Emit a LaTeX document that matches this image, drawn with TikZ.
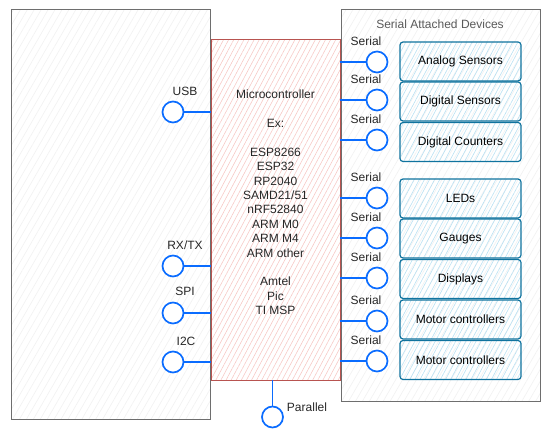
\documentclass[tikz,border=0pt]{standalone}
\usepackage{tikz}
\usepackage{fontspec}
\setmainfont{Liberation Sans}
\usetikzlibrary{patterns.meta}
\definecolor{portblue}{HTML}{0A6CFF}
\definecolor{mcured}{HTML}{B85450}
\definecolor{mcupink}{HTML}{F6C9C6}
\definecolor{devblue}{HTML}{10739E}
\definecolor{devfill}{HTML}{B9E1F2}
\definecolor{hostgray}{HTML}{6E6E6E}

\begin{document}
\begin{tikzpicture}[x=1pt,y=-1pt,font=\fontsize{12}{14.4}\selectfont,
	host_box/.style={rectangle,draw=hostgray,line width=1pt,minimum width=199pt,inner sep=0pt,
		pattern={Lines[angle=60,distance=6pt,line width=0.7pt]},pattern color=black!5},
	mcu_box/.style={rectangle,draw=mcured,line width=1pt,minimum width=129pt,minimum height=340pt,inner sep=0pt,
		pattern={Lines[angle=62,distance=4.5pt,line width=0.6pt]},pattern color=mcupink},
	dev_box/.style={rectangle,rounded corners=3pt,draw=devblue,line width=1.2pt,minimum width=121pt,minimum height=39pt,inner sep=0pt,
		pattern={Lines[angle=62,distance=4.5pt,line width=0.6pt]},pattern color=devfill},
	port_node/.style={circle,draw=portblue,fill=white,line width=1.7pt,minimum size=21pt,inner sep=0pt},
	port_line/.style={draw=portblue,line width=1.7pt},
	port_text/.style={inner sep=0pt,text=black!85}]

		\useasboundingbox (0,0) rectangle (551,441);

		\node[host_box,minimum height=409pt] (host) at (110.5,214.5) {};
		\node[host_box,minimum height=391pt] (devices) at (440.5,205.5) {};
		\node[port_text,text=black!65] (devtitle) at (440,24) {Serial Attached Devices};

		\node[mcu_box] (mcu) at (275.5,210) {};
		\node[align=center,inner sep=0pt,text=black!85] (mcutext) at (275.5,202.5) {Microcontroller\\[14.4pt]Ex:\\[14.4pt]ESP8266\\ESP32\\RP2040\\SAMD21/51\\nRF52840\\ARM M0\\ARM M4\\ARM other\\[14.4pt]Amtel\\Pic\\TI MSP};

		\node[port_node] (usb) at (173,112) {};
		\node[port_node] (rxtx) at (173,266) {};
		\node[port_node] (spi) at (173,313) {};
		\node[port_node] (i2c) at (173,362) {};
		\node[port_text] (usbtext) at (185,91) {USB};
		\node[port_text] (rxtxtext) at (185,245) {RX/TX};
		\node[port_text] (spitext) at (185,291) {SPI};
		\node[port_text] (i2ctext) at (186,341) {I2C};

		\path[port_line] (usb) -- (usb -| mcu.west);
		\path[port_line] (rxtx) -- (rxtx -| mcu.west);
		\path[port_line] (spi) -- (spi -| mcu.west);
		\path[port_line] (i2c) -- (i2c -| mcu.west);

		\node[port_node] (par) at (272.5,417) {};
		\node[port_text] (partext) at (307,407) {Parallel};
		\path[port_line] (par) -- (par |- mcu.south);

		\foreach \n/\y/\dy/\dev in {s1/62/61.5/Analog Sensors,s2/100/101.5/Digital Sensors,s3/140/142/Digital Counters,
			s4/198/198.5/LEDs,s5/238/238.5/Gauges,s6/278/279/Displays,s7/321/319.5/Motor controllers,s8/361/360/Motor controllers}{
			\node[port_node] (\n) at (377,\y) {};
			\node[port_text] (\n text) at (366,\y-21) {Serial};
			\path[port_line] (\n) -- (\n -| mcu.east);
			\node[dev_box] (\n dev) at (460.5,\dy) {\dev};
		}
\end{tikzpicture}
\end{document}
